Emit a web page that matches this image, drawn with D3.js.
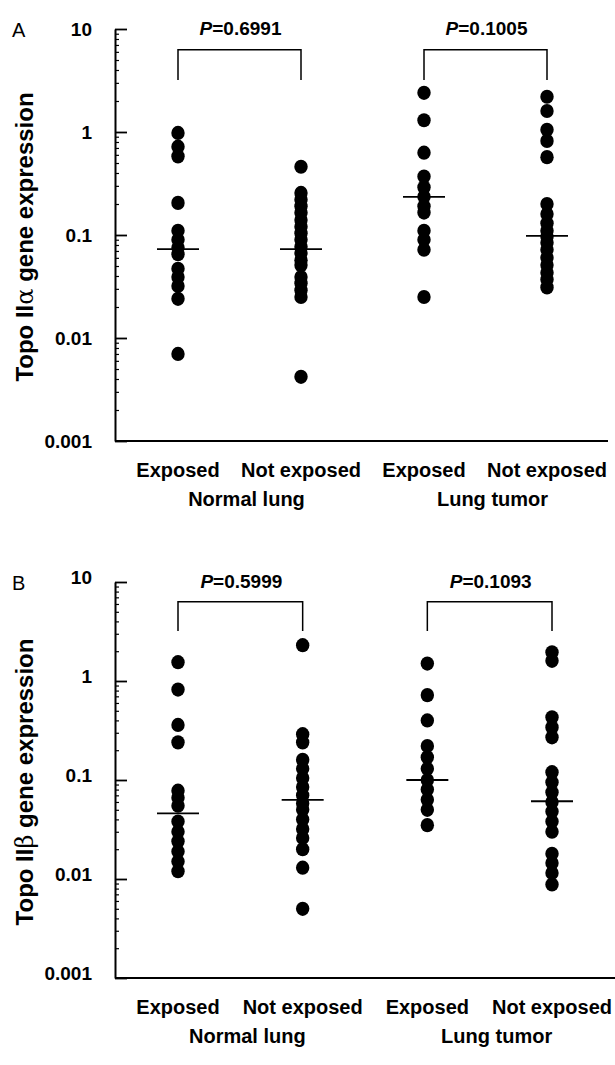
<!DOCTYPE html>
<html>
<head>
<meta charset="utf-8">
<script src="https://cdn.jsdelivr.net/npm/d3@7"></script>
<style>
  body { margin: 0; background: #fff; }
  text { font-family: "Liberation Sans", Arial, Helvetica, sans-serif; fill: #000; }
</style>
</head>
<body>
<script>
// categories
var groupLabels = ["Exposed", "Not exposed", "Exposed", "Not exposed"];
var tissueLabels = ["Normal lung", "Lung tumor"];
var yTicks = [10, 1, 0.1, 0.01, 0.001];

// Topo II alpha (panel A)
var alphaNormalExposed = [0.98, 0.72, 0.58, 0.205, 0.11, 0.09, 0.075, 0.065, 0.047, 0.039, 0.032, 0.024, 0.007];
var alphaNormalNotExposed = [0.46, 0.256, 0.22, 0.19, 0.164, 0.14, 0.12, 0.104, 0.09, 0.077, 0.067, 0.057, 0.051, 0.039, 0.034, 0.029, 0.025, 0.0042];
var alphaTumorExposed = [2.4, 1.3, 0.63, 0.37, 0.29, 0.235, 0.19, 0.165, 0.11, 0.09, 0.072, 0.025];
var alphaTumorNotExposed = [2.2, 1.6, 1.05, 0.82, 0.57, 0.2, 0.16, 0.13, 0.11, 0.096, 0.084, 0.072, 0.06, 0.051, 0.043, 0.037, 0.031];
var alphaMedians = [0.073, 0.073, 0.234, 0.098];
var alphaP = ["0.6991", "0.1005"];

// Topo II beta (panel B)
var betaNormalExposed = [1.55, 0.82, 0.36, 0.24, 0.078, 0.066, 0.055, 0.038, 0.03, 0.024, 0.019, 0.015, 0.012];
var betaNormalNotExposed = [2.3, 0.29, 0.24, 0.16, 0.13, 0.105, 0.085, 0.07, 0.058, 0.05, 0.04, 0.032, 0.026, 0.02, 0.013, 0.005];
var betaTumorExposed = [1.5, 0.72, 0.4, 0.22, 0.17, 0.13, 0.1, 0.08, 0.063, 0.05, 0.035];
var betaTumorNotExposed = [1.95, 1.6, 0.43, 0.34, 0.27, 0.12, 0.095, 0.075, 0.06, 0.048, 0.038, 0.03, 0.018, 0.0145, 0.0115, 0.0088];
var betaMedians = [0.046, 0.063, 0.1, 0.061];
var betaP = ["0.5999", "0.1093"];

var bracketTop = 6.3, bracketLeg = 3.2;

var svg = d3.select("body").append("svg")
  .attr("width", 615)
  .attr("height", 1065);

var panels = [
  {letter: "A", greek: "\u03b1", top: 29, bottom: 441, right: 608, xr: [178, 547], lab: 0.35,
   series: [alphaNormalExposed, alphaNormalNotExposed, alphaTumorExposed, alphaTumorNotExposed],
   medians: alphaMedians, p: alphaP},
  {letter: "B", greek: "\u03b2", top: 582, bottom: 978, right: 615, xr: [178, 552], lab: 0.1,
   series: [betaNormalExposed, betaNormalNotExposed, betaTumorExposed, betaTumorNotExposed],
   medians: betaMedians, p: betaP}
];

var axisX = 115;

panels.forEach(function(pn) {
  var g = svg.append("g");

  var y = d3.scaleLog().domain([0.001, 10]).range([pn.bottom, pn.top]);
  var x = d3.scalePoint().domain(d3.range(4)).range(pn.xr);

  // minor ticks
  var minor = [];
  [0.001, 0.01, 0.1, 1].forEach(function(dec) {
    for (var k = 2; k <= 9; k++) minor.push(dec * k);
  });
  g.append("g")
    .attr("transform", "translate(" + axisX + ",0)")
    .call(d3.axisLeft(y).tickValues(minor).tickSizeInner(-4).tickSizeOuter(0).tickFormat(""))
    .call(function(s) { s.select(".domain").remove(); s.selectAll("line").attr("stroke-width", 1.2); });

  // major ticks + labels
  var yAxis = g.append("g")
    .attr("transform", "translate(" + axisX + ",0)")
    .call(d3.axisLeft(y).tickValues(yTicks).tickSizeInner(-12).tickSizeOuter(0).tickPadding(23)
      .tickFormat(function(d) { return String(d); }));
  yAxis.select(".domain").attr("stroke-width", 2);
  yAxis.selectAll("line").attr("stroke-width", 1.8);
  yAxis.selectAll("text")
    .attr("dy", pn.lab + "em")
    .style("font-size", "19px")
    .style("font-weight", "bold")
    .style("font-family", "'Liberation Sans', Arial, sans-serif");

  // x axis line
  g.append("line")
    .attr("x1", axisX).attr("x2", pn.right)
    .attr("y1", y(0.001)).attr("y2", y(0.001))
    .attr("stroke", "#000").attr("stroke-width", 2);

  // dots
  pn.series.forEach(function(vals, i) {
    g.selectAll(null).data(vals).enter().append("ellipse")
      .attr("cx", x(i))
      .attr("cy", function(d) { return y(d); })
      .attr("rx", 6.7).attr("ry", 7.1)
      .attr("fill", "#000");
  });

  // median lines
  g.selectAll(null).data(pn.medians).enter().append("line")
    .attr("x1", function(d, i) { return x(i) - 21; })
    .attr("x2", function(d, i) { return x(i) + 21; })
    .attr("y1", function(d) { return y(d); })
    .attr("y2", function(d) { return y(d); })
    .attr("stroke", "#000").attr("stroke-width", 1.8);

  // brackets + P values
  [0, 1].forEach(function(j) {
    var x1 = x(j * 2), x2 = x(j * 2 + 1);
    g.append("path")
      .attr("d", "M" + x1 + "," + y(bracketLeg) + "V" + y(bracketTop) + "H" + x2 + "V" + y(bracketLeg))
      .attr("fill", "none").attr("stroke", "#000").attr("stroke-width", 1.5);
    var t = g.append("text")
      .attr("x", (x1 + x2) / 2 + 1)
      .attr("y", y(10) + 6)
      .attr("text-anchor", "middle")
      .style("font-size", "19px").style("font-weight", "bold");
    t.append("tspan").style("font-style", "italic").text("P");
    t.append("tspan").text("=" + pn.p[j]);
  });

  // group labels
  g.selectAll(null).data(groupLabels).enter().append("text")
    .attr("x", function(d, i) { return x(i); })
    .attr("y", pn.bottom + 36)
    .attr("text-anchor", "middle")
    .style("font-size", "20px").style("font-weight", "bold")
    .text(function(d) { return d; });

  g.selectAll(null).data(tissueLabels).enter().append("text")
    .attr("x", function(d, i) { return (x(i * 2) + x(i * 2 + 1)) / 2 + 7; })
    .attr("y", pn.bottom + 65)
    .attr("text-anchor", "middle")
    .style("font-size", "20px").style("font-weight", "bold")
    .text(function(d) { return d; });

  // y title
  var cy = (pn.top + pn.bottom) / 2 + 2;
  var ty = g.append("text")
    .attr("transform", "translate(33," + cy + ") rotate(-90)")
    .attr("text-anchor", "middle")
    .style("font-size", "24px").style("font-weight", "bold");
  ty.append("tspan").text("Topo II");
  ty.append("tspan").style("font-weight", "normal").style("font-family", "'DejaVu Serif', serif").text(pn.greek);
  ty.append("tspan").text(" gene expression");

  // panel letter
  g.append("text")
    .attr("x", 12).attr("y", pn.top + 8)
    .style("font-size", "20px")
    .text(pn.letter);
});
</script>
</body>
</html>
